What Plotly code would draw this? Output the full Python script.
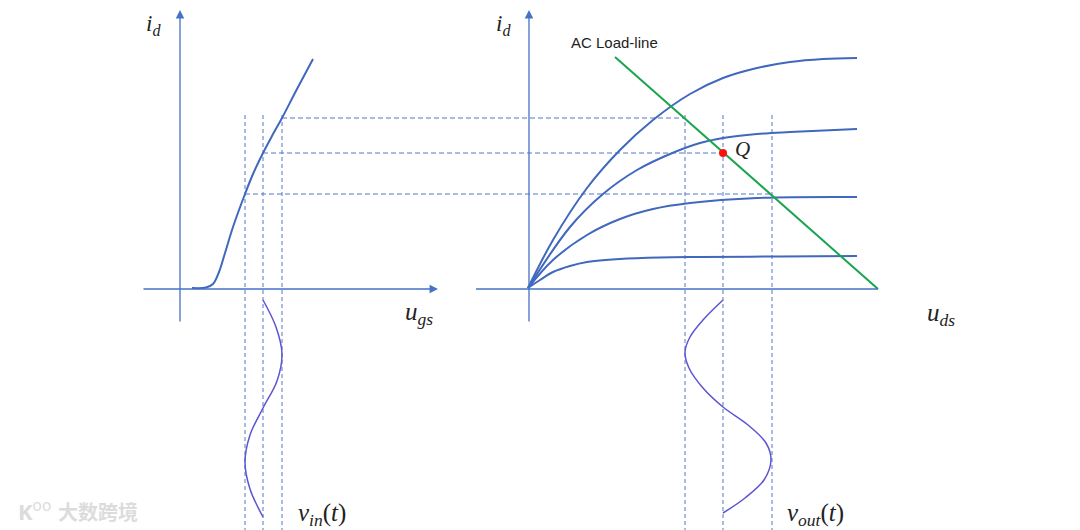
import plotly.graph_objects as go

# ---------------- data (diagram coordinates) ----------------
# transfer characteristic i_d(u_gs), left panel
transfer_x = [192, 206, 213, 219, 225, 233, 245, 253, 263, 272, 282, 297, 313]
transfer_y = [288, 287.5, 284, 272, 253, 227, 194, 174, 153, 136, 118, 89, 59]

# output characteristics i_d(u_ds), right panel (four gate voltages)
out1_x = [528, 553, 587, 620, 653, 690, 723, 757, 790, 823, 857]
out1_y = [288, 240, 188, 150, 120, 94, 78, 68, 62, 59, 58]
out2_x = [528, 570, 603, 637, 670, 700, 723, 757, 790, 857]
out2_y = [288, 227, 194, 170, 154, 143, 138, 134, 132, 129]
out3_x = [528, 553, 587, 620, 653, 690, 757, 857]
out3_y = [288, 260, 235, 219, 209, 203, 198, 197]
out4_x = [528, 540, 553, 570, 587, 620, 660, 700, 780, 857]
out4_y = [288, 280, 272, 266, 262, 259, 257.5, 257, 256.5, 256]

# AC load line
load_x = [615, 878]
load_y = [57, 289]

# quiescent point
q_x = [723]
q_y = [153]

# input / output signals
vin_y = [300, 327, 354, 381, 408, 435, 462, 489, 517]
vin_x = [263, 276, 282, 277, 263, 250, 245, 250, 263]
vout_y = [300, 320, 337, 352, 368, 388, 407, 425, 443, 460, 480, 498, 513]
vout_x = [723, 703, 690, 685, 689, 703, 723, 748, 766, 771, 764, 745, 723]

# projection lines: gate voltages (left) -> drain currents -> drain voltages (right)
gate_levels = [245, 263, 282]
current_levels = [194, 153, 118]
drain_levels = [772, 723, 685]
proj_top = 115
proj_bottom = 530

AXIS = "#4472C4"
CURVE = "#4068BC"
DASH = "#5078C8"

# the page body has an 8px margin: size the figure to the rest of the window
PAGE_OFFSET = 8

fig = go.Figure()

def line(x, y, color, width, dash=None, shape="linear"):
    fig.add_trace(go.Scatter(x=x, y=y, mode="lines", hoverinfo="skip",
                             line=dict(color=color, width=width, dash=dash, shape=shape,
                                       smoothing=1.0 if shape == "spline" else None)))

# dashed projection lines
for gx in gate_levels:
    line([gx, gx], [proj_top, proj_bottom], DASH, 1, dash="4px,3px")
for dx in drain_levels:
    line([dx, dx], [proj_top, proj_bottom], DASH, 1, dash="4px,3px")
for gx, iy, dx in zip(gate_levels, current_levels, drain_levels):
    line([gx, dx], [iy, iy], DASH, 1, dash="5px,3px")

# characteristics
line(transfer_x, transfer_y, CURVE, 2, shape="spline")
for xs, ys in [(out1_x, out1_y), (out2_x, out2_y), (out3_x, out3_y), (out4_x, out4_y)]:
    line(xs, ys, CURVE, 2, shape="spline")

# load line
line(load_x, load_y, "#1AA44F", 2)

# signals
line(vin_x, vin_y, "#5B55D2", 1.5, shape="spline")
line(vout_x, vout_y, "#5B55D2", 1.5, shape="spline")

# right x axis (no arrow)
line([476, 878], [289, 289], AXIS, 1.3)

# Q point
fig.add_trace(go.Scatter(x=q_x, y=q_y, mode="markers", hoverinfo="skip",
                         marker=dict(color="#FF1010", size=8)))

# axes with arrows
arrows = [
    (180, 10, 180, 323),   # left i_d axis
    (438, 289, 142, 289),  # left u_gs axis
    (529, 10, 529, 323),   # right i_d axis
]
for hx, hy, tx, ty in arrows:
    fig.add_annotation(x=hx, y=hy, ax=tx, ay=ty, xref="x", yref="y", axref="x", ayref="y",
                       text="", showarrow=True, arrowhead=2, arrowsize=1.3,
                       arrowwidth=1.3, arrowcolor=AXIS)

SERIF = "Liberation Serif, DejaVu Serif, serif"
labels = [
    (153, 9, "<i>i</i><sub><i>d</i></sub>", 23, "top"),
    (503, 9, "<i>i</i><sub><i>d</i></sub>", 23, "top"),
    (419, 313, "<i>u</i><sub><i>gs</i></sub>", 25, "middle"),
    (941, 314, "<i>u</i><sub><i>ds</i></sub>", 25, "middle"),
    (322, 514, "<i>v</i><sub><i>in</i></sub>(<i>t</i>)", 25, "middle"),
    (815, 514, "<i>v</i><sub><i>out</i></sub>(<i>t</i>)", 25, "middle"),
    (742, 149, "<i>Q</i>", 21, "middle"),
]
for x, y, t, s, va in labels:
    fig.add_annotation(x=x, y=y, xref="x", yref="y", text=t, showarrow=False, yanchor=va,
                       font=dict(family=SERIF, size=s, color="#222222"))

fig.add_annotation(x=614, y=42, xref="x", yref="y", text="AC Load-line", showarrow=False,
                   font=dict(family="Liberation Sans, Arial, sans-serif", size=15, color="#222222"))

# faint watermark
fig.add_annotation(x=34, y=510, xref="x", yref="y", text="<b>K</b><sup>oo</sup>", showarrow=False,
                   font=dict(family="Noto Sans", size=22, color="#DCDCDC"))
fig.add_annotation(x=98, y=511, xref="x", yref="y", text="<b>大数跨境</b>", showarrow=False,
                   font=dict(family="Noto Sans CJK SC", size=20, color="#DCDCDC"))

fig.update_layout(
    width=1080 - PAGE_OFFSET, height=530 - PAGE_OFFSET,
    margin=dict(l=0, r=0, t=0, b=0),
    paper_bgcolor="white", plot_bgcolor="white",
    showlegend=False,
    xaxis=dict(range=[PAGE_OFFSET, 1080], visible=False, fixedrange=True),
    yaxis=dict(range=[530, PAGE_OFFSET], visible=False, fixedrange=True),
)

fig.write_html("out.html")
